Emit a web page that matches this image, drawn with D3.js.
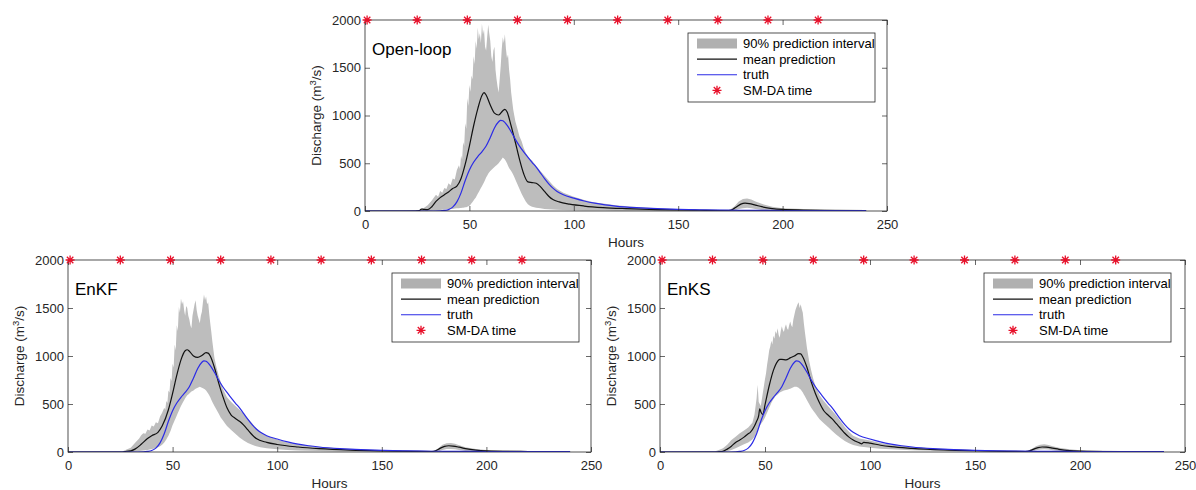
<!DOCTYPE html>
<html>
<head>
<meta charset="utf-8">
<script src="https://cdn.jsdelivr.net/npm/d3@7"></script>
<style>
  html, body { margin: 0; padding: 0; background: #fff; }
  svg { display: block; font-family: "Liberation Sans", Arial, Helvetica, sans-serif; }
</style>
</head>
<body>
<svg id="chart" width="1196" height="490"></svg>
<script>
// tick labels and SM-DA update times (hours)
const xTicks = [0, 50, 100, 150, 200, 250];
const yTicks = [0, 500, 1000, 1500, 2000];
const daTimes = [1, 25, 49, 73, 97, 121, 145, 169, 193, 217];
const legendLabels = ["90% prediction interval", "mean prediction", "truth", "SM-DA time"];

// truth discharge [hour, m3/s]
const truthQ = [[0,0],[30,0],[36,2],[38,6],[40,15],[42,40],[44,95],[46,190],[48,320],[50,430],[52,510],[54,570],
  [56,620],[58,680],[60,770],[62,870],[64,935],[65,950],[66,945],[68,900],[70,830],[72,750],[74,680],[76,620],
  [78,565],[80,510],[82,460],[84,400],[86,340],[88,285],[90,240],[92,205],[95,170],[100,135],[105,105],[110,82],
  [115,65],[120,52],[130,35],[140,24],[150,17],[160,12],[170,9],[180,7],[190,6],[200,5],[220,4],[240,3]];

// open-loop: mean [hour, Q] and 90% band [hour, low, high]
const olMean = [[0,0],[24,0],[26,5],[27,20],[28,18],[30,15],[32,45],[34,100],[36,140],[38,170],[40,200],[42,235],
  [44,260],[46,340],[48,490],[50,680],[52,890],[54,1070],[56,1210],[57,1240],[58,1215],[60,1110],[62,1025],
  [64,1005],[66,1050],[67,1065],[68,1040],[70,890],[72,720],[74,540],[76,390],[78,305],[80,298],[82,290],
  [84,255],[86,205],[88,155],[90,120],[93,95],[98,72],[105,52],[114,36],[125,25],[140,15],[160,8],[174,5],
  [176,15],[178,45],[180,72],[182,82],[184,78],[187,62],[190,45],[195,25],[200,16],[210,10],[220,6],[240,3]];
const olBand = [[0,0,0],[20,0,2],[26,0,10],[28,0,30],[30,2,60],[32,5,110],[34,8,170],[35,9,150],[36,10,210],
  [37,12,190],[38,15,240],[39,18,230],[40,20,290],[41,20,270],[42,22,340],[43,25,330],[44,28,430],[45,30,480],
  [45.5,31,440],[46,32,580],[46.5,34,540],[47,35,720],[47.5,36,680],[48,38,920],[48.5,40,860],[49,45,1180],
  [49.5,50,1100],[50,55,1320],[50.5,65,1250],[51,80,1420],[51.5,95,1380],[52,110,1620],[52.5,125,1540],
  [53,140,1780],[53.5,160,1700],[54,180,1920],[54.5,200,1800],[55,220,1860],[55.5,240,1760],[56,260,1960],
  [56.5,280,1850],[57,300,1900],[57.5,325,1720],[58,350,1680],[58.5,370,1820],[59,390,1950],[59.5,405,1860],
  [60,420,1780],[60.5,430,1620],[61,440,1560],[61.5,450,1680],[62,460,1720],[62.5,470,1480],[63,480,1380],
  [63.5,490,1300],[64,500,1240],[64.5,515,1380],[65,530,1520],[65.5,545,1700],[66,560,1820],[66.5,550,1760],
  [67,540,1850],[67.5,520,1700],[68,500,1600],[68.5,475,1640],[69,450,1480],[69.5,435,1380],[70,420,1240],
  [70.5,400,1150],[71,380,1060],[71.5,355,1000],[72,330,940],[73,280,860],[74,230,780],[75,180,730],
  [76,140,660],[77,100,610],[78,70,570],[79,55,545],[80,45,530],[82,35,470],[84,28,420],[86,22,370],
  [88,18,320],[90,15,270],[92,12,230],[95,10,190],[100,8,150],[105,6,115],[110,5,90],[115,4,75],[120,3,60],
  [130,2,42],[140,1,30],[150,1,22],[160,0,15],[170,0,12],[175,0,15],[177,5,50],[179,20,100],[181,30,125],
  [183,35,130],[185,30,120],[187,20,100],[190,10,75],[195,5,45],[200,3,30],[210,2,20],[220,1,12],[230,0,8],
  [240,0,5]];

// EnKF
const kfMean = [[0,0],[26,0],[28,8],[30,12],[32,30],[35,80],[38,140],[40,170],[43,205],[45,270],[48,440],[50,610],
  [52,800],[54,960],[56,1055],[57,1065],[58,1050],[60,1000],[62,985],[64,1005],[66,1035],[67,1030],[68,1000],
  [70,880],[72,720],[74,580],[76,460],[78,385],[80,350],[82,320],[84,280],[86,230],[88,180],[90,140],[95,100],
  [100,78],[110,52],[120,35],[135,20],[150,12],[165,7],[174,5],[176,15],[178,40],[180,58],[182,65],[184,62],
  [187,50],[190,35],[195,20],[200,13],[220,5],[240,2]];
const kfBand = [[0,0,0],[26,0,5],[28,0,25],[30,2,45],[32,5,95],[34,10,140],[35,12,175],[36,15,195],[37,17,190],
  [38,20,235],[39,25,225],[40,30,275],[41,35,265],[42,40,310],[43,50,300],[44,60,370],[45,75,410],[46,100,460],
  [46.5,115,440],[47,130,530],[47.5,150,510],[48,170,640],[48.5,195,620],[49,220,770],[49.5,250,740],
  [50,280,920],[50.5,305,880],[51,330,1120],[51.5,355,1060],[52,380,1320],[52.5,405,1260],[53,430,1510],
  [53.5,455,1450],[54,480,1600],[54.5,500,1540],[55,520,1570],[55.5,540,1480],[56,560,1420],[56.5,575,1520],
  [57,590,1500],[57.5,600,1420],[58,610,1380],[58.5,620,1320],[59,630,1290],[59.5,635,1420],[60,640,1480],
  [60.5,650,1540],[61,660,1580],[61.5,665,1480],[62,670,1420],[62.5,675,1380],[63,680,1340],[63.5,675,1420],
  [64,670,1460],[64.5,665,1560],[65,660,1640],[65.5,650,1580],[66,640,1620],[66.5,625,1540],[67,610,1560],
  [67.5,590,1440],[68,570,1340],[68.5,545,1250],[69,520,1150],[70,480,980],[71,440,880],[72,400,800],
  [73,360,730],[74,330,660],[75,300,615],[76,270,570],[78,230,520],[80,190,480],[82,150,440],[84,120,400],
  [86,95,350],[88,75,300],[90,60,250],[92,50,210],[95,40,170],[100,28,130],[105,20,100],[110,15,80],
  [120,10,55],[130,6,38],[140,4,28],[150,2,20],[160,1,14],[170,0,10],[175,0,12],[177,5,40],[179,20,75],
  [181,30,90],[183,32,95],[185,28,85],[187,20,70],[190,10,50],[195,5,30],[200,3,20],[220,1,10],[240,0,5]];

// EnKS
const ksMean = [[0,0],[26,0],[28,3],[30,8],[32,30],[34,60],[36,100],[38,125],[40,155],[42,190],[43,205],[45,270],
  [46,320],[47,380],[47.5,450],[48,420],[49,390],[50,490],[52,690],[54,850],[56,945],[57,965],[58,965],[60,960],
  [62,980],[64,1000],[66,1025],[67,1022],[68,990],[70,880],[72,730],[74,610],[76,510],[78,430],[80,385],
  [82,345],[84,295],[86,245],[88,195],[90,155],[92,125],[95,95],[96,85],[97,100],[100,92],[105,70],[110,55],
  [120,38],[135,22],[150,13],[165,7],[174,5],[176,12],[178,30],[180,45],[182,52],[184,50],[187,40],[190,28],
  [195,15],[200,10],[220,4],[240,2]];
const ksBand = [[0,0,0],[26,0,5],[28,0,20],[30,2,40],[32,8,75],[34,20,125],[36,40,160],[38,60,195],[40,80,225],
  [42,100,255],[44,130,305],[45,160,390],[46,200,560],[46.5,230,700],[47,260,520],[48,290,480],[49,320,620],
  [50,360,760],[50.5,385,820],[51,410,910],[51.5,435,980],[52,460,1060],[52.5,485,1100],[53,510,1160],
  [53.5,530,1120],[54,550,1210],[54.5,565,1180],[55,580,1260],[55.5,590,1230],[56,600,1290],[56.5,610,1220],
  [57,620,1190],[57.5,625,1260],[58,630,1310],[58.5,635,1270],[59,640,1250],[59.5,642,1300],[60,645,1330],
  [60.5,648,1290],[61,650,1270],[61.5,655,1320],[62,660,1360],[62.5,665,1320],[63,670,1300],[63.5,675,1380],
  [64,680,1430],[64.5,680,1480],[65,680,1510],[65.5,675,1540],[66,670,1560],[66.5,660,1500],[67,650,1540],
  [67.5,635,1490],[68,620,1450],[68.5,600,1340],[69,580,1250],[70,540,1080],[71,500,950],[72,460,850],
  [73,430,760],[74,400,690],[75,370,640],[76,340,590],[78,300,530],[80,260,480],[82,220,430],[84,180,380],
  [86,145,320],[88,115,260],[90,90,210],[92,72,170],[95,58,140],[100,45,120],[105,35,95],[110,28,78],
  [120,18,55],[130,12,38],[140,8,28],[150,5,20],[160,3,14],[170,2,10],[175,2,12],[177,6,30],[179,18,60],
  [181,25,75],[183,28,80],[185,25,72],[187,18,60],[190,10,45],[195,5,28],[200,3,18],[220,1,10],[240,0,5]];

const bandColor = "#bdbdbd";
const truthColor = "#2b2be6";
const starColor = "#e8102a";
const axisColor = "#262626";

const panels = [
  {title: "Open-loop", mean: olMean, band: olBand, left: 365, right: 887, top: 20, bottom: 211, legX: 688, legY: 33},
  {title: "EnKF", mean: kfMean, band: kfBand, left: 68, right: 591, top: 260, bottom: 452, legX: 392, legY: 273},
  {title: "EnKS", mean: ksMean, band: ksBand, left: 660, right: 1185, top: 260, bottom: 452, legX: 984, legY: 273}
];

const svg = d3.select("#chart");

// asterisk marker like matlab '*'
function starPath(r){
  const d = r * 0.72;
  return `M${-r},0L${r},0M0,${-r}L0,${r}M${-d},${-d}L${d},${d}M${-d},${d}L${d},${-d}`;
}

panels.forEach(function(p, i){
  const x = d3.scaleLinear().domain([0, 250]).range([p.left, p.right]);
  const y = d3.scaleLinear().domain([0, 2000]).range([p.bottom, p.top]);
  const g = svg.append("g");

  const clipId = "clip" + i;
  g.append("clipPath").attr("id", clipId)
    .append("rect").attr("x", p.left).attr("y", p.top)
    .attr("width", p.right - p.left).attr("height", p.bottom - p.top);

  const plot = g.append("g").attr("clip-path", `url(#${clipId})`);

  plot.append("path")
    .datum(p.band)
    .attr("fill", bandColor)
    .attr("d", d3.area().x(d => x(d[0])).y0(d => y(d[1])).y1(d => y(d[2])));

  plot.append("path")
    .datum(p.mean)
    .attr("fill", "none")
    .attr("stroke", "#111")
    .attr("stroke-width", 1.2)
    .attr("d", d3.line().x(d => x(d[0])).y(d => y(d[1])).curve(d3.curveMonotoneX));

  plot.append("path")
    .datum(truthQ)
    .attr("fill", "none")
    .attr("stroke", truthColor)
    .attr("stroke-width", 1.2)
    .attr("d", d3.line().x(d => x(d[0])).y(d => y(d[1])).curve(d3.curveMonotoneX));

  // axes with inward ticks on all four sides
  const tickFont = g => g.selectAll("text").attr("fill", axisColor).style("font-size", "13px");
  g.append("g").attr("transform", `translate(0,${p.bottom})`)
    .call(d3.axisBottom(x).tickValues(xTicks).tickSize(-5).tickPadding(9).tickFormat(d3.format("d")))
    .call(tickFont);
  g.append("g").attr("transform", `translate(0,${p.top})`)
    .call(d3.axisTop(x).tickValues(xTicks).tickSize(-5).tickFormat(""));
  g.append("g").attr("transform", `translate(${p.left},0)`)
    .call(d3.axisLeft(y).tickValues(yTicks).tickSize(-5).tickPadding(4).tickFormat(d3.format("d")))
    .call(tickFont);
  g.append("g").attr("transform", `translate(${p.right},0)`)
    .call(d3.axisRight(y).tickValues(yTicks).tickSize(-5).tickFormat(""));
  g.selectAll(".domain").remove();
  g.selectAll(".tick line").attr("stroke", axisColor).attr("stroke-width", 0.7);

  g.append("rect")
    .attr("x", p.left).attr("y", p.top)
    .attr("width", p.right - p.left).attr("height", p.bottom - p.top)
    .attr("fill", "none").attr("stroke", axisColor).attr("stroke-width", 0.8);

  // SM-DA times drawn on the top edge
  g.selectAll(".star").data(daTimes).join("path")
    .attr("class", "star")
    .attr("transform", d => `translate(${x(d)},${y(2000)})`)
    .attr("d", starPath(4.5))
    .attr("stroke", starColor).attr("stroke-width", 1.3).attr("fill", "none");

  g.append("text")
    .attr("x", p.left + 7).attr("y", p.top + 35)
    .attr("fill", "#000")
    .style("font-size", "17px")
    .text(p.title);

  const yl = g.append("text")
    .attr("transform", `translate(${p.left - 44},${(p.top + p.bottom) / 2}) rotate(-90)`)
    .attr("text-anchor", "middle")
    .attr("fill", axisColor)
    .style("font-size", "13.5px");
  yl.append("tspan").text("Discharge (m");
  yl.append("tspan").attr("dy", -5).style("font-size", "9.5px").text("3");
  yl.append("tspan").attr("dy", 5).text("/s)");

  g.append("text")
    .attr("x", (p.left + p.right) / 2).attr("y", p.bottom + 36)
    .attr("text-anchor", "middle")
    .attr("fill", axisColor)
    .style("font-size", "13.5px")
    .text("Hours");

  // legend
  const lg = g.append("g").attr("transform", `translate(${p.legX},${p.legY})`);
  lg.append("rect").attr("width", 187).attr("height", 69)
    .attr("fill", "#fff").attr("stroke", axisColor).attr("stroke-width", 0.8);
  const rowY = k => 10.5 + k * 15.6;
  lg.append("rect").attr("x", 9).attr("y", rowY(0) - 5).attr("width", 40).attr("height", 10).attr("fill", "#b0b0b0");
  lg.append("line").attr("x1", 9).attr("x2", 49).attr("y1", rowY(1)).attr("y2", rowY(1))
    .attr("stroke", "#111").attr("stroke-width", 1.1);
  lg.append("line").attr("x1", 9).attr("x2", 49).attr("y1", rowY(2)).attr("y2", rowY(2))
    .attr("stroke", truthColor).attr("stroke-width", 1.1);
  lg.append("path").attr("transform", `translate(29,${rowY(3)})`).attr("d", starPath(4.5))
    .attr("stroke", starColor).attr("stroke-width", 1.3).attr("fill", "none");
  lg.selectAll(".lab").data(legendLabels).join("text")
    .attr("class", "lab")
    .attr("x", 55).attr("y", (d, k) => rowY(k))
    .attr("dy", "0.35em")
    .attr("fill", "#000")
    .style("font-size", "13px")
    .text(d => d);
});
</script>
</body>
</html>
